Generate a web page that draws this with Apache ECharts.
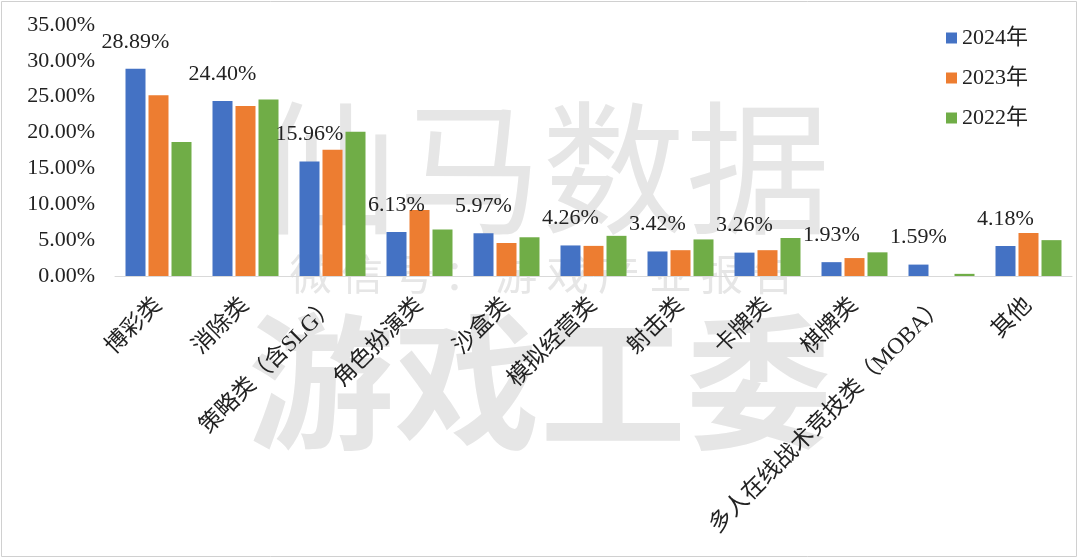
<!DOCTYPE html>
<html>
<head>
<meta charset="utf-8">
<script src="https://cdn.jsdelivr.net/npm/echarts@6/dist/echarts.min.js"></script>
<style>html,body{margin:0;padding:0;background:#fff;}#c{width:1080px;height:559px;}</style>
</head>
<body>
<div id="c"></div>
<script>
const categories = ['博彩类','消除类','策略类（含SLG）','角色扮演类','沙盒类','模拟经营类','射击类','卡牌类','棋牌类','多人在线战术竞技类（MOBA）','其他'];
const seriesNames = ['2024年','2023年','2022年'];
const values2024 = [28.89,24.40,15.96,6.13,5.97,4.26,3.42,3.26,1.93,1.59,4.18];
const values2023 = [25.2,23.7,17.6,9.2,4.6,4.2,3.6,3.6,2.5,null,6.0];
const values2022 = [18.7,24.6,20.1,6.5,5.4,5.6,5.1,5.3,3.3,0.3,5.0];
const yTicks = [0,5,10,15,20,25,30,35];
const colors = ['#4472C4','#ED7D31','#70AD47'];

const FONT = '"Liberation Serif", "Noto Sans CJK SC", serif';
const chart = echarts.init(document.getElementById('c'), null, {renderer:'canvas'});
const wm = '#e6e6e6';
chart.setOption({
  backgroundColor:'#fff',
  animation:false,
  textStyle:{fontFamily:FONT},
  graphic:[
    {type:'rect', z:0, silent:true, shape:{x:1.5,y:1.5,width:1075,height:555}, style:{fill:null, stroke:'#d0d0d0', lineWidth:1}},
    {type:'text', z:-1, silent:true, x:542, y:168, style:{text:'仙马数据', fill:wm, font:'144px "Noto Sans CJK SC"', textAlign:'center', textVerticalAlign:'middle'}},
    {type:'text', z:-1, silent:true, x:542, y:274, style:{text:'微 信 号 ： 游 戏 产 业 报 告', fill:wm, font:'42px "Noto Sans CJK SC"', textAlign:'center', textVerticalAlign:'middle'}},
    {type:'text', z:-1, silent:true, x:540, y:382, style:{text:'游戏工委', fill:wm, font:'bold 146px "Noto Sans CJK SC"', textAlign:'center', textVerticalAlign:'middle'}}
  ],
  legend:{
    orient:'vertical', left:941, top:22,
    itemWidth:11, itemHeight:11, itemGap:18,
    icon:'rect',
    textStyle:{fontSize:22, color:'#222', fontFamily:FONT},
    data:seriesNames
  },
  grid:{left:115, right:8, top:25, bottom:283, containLabel:false},
  xAxis:{
    type:'category', data:categories,
    axisLine:{lineStyle:{color:'#d9d9d9', width:1}},
    axisTick:{show:false},
    axisLabel:{rotate:45, interval:0, fontSize:23, color:'#222', margin:26, fontFamily:FONT}
  },
  yAxis:{
    type:'value', min:0, max:35, interval:5,
    axisLine:{show:false}, axisTick:{show:false},
    splitLine:{show:false},
    axisLabel:{fontSize:22, color:'#222', margin:20, fontFamily:FONT,
      formatter:v=>v.toFixed(2)+'%'}
  },
  series:[
    {name:seriesNames[0], type:'bar', data:values2024, itemStyle:{color:colors[0]},
      barWidth:20, barGap:'15%', barCategoryGap:'23%',
      label:{show:true, position:'top', distance:16, fontSize:22, color:'#222', fontFamily:FONT,
        formatter:p=>p.value.toFixed(2)+'%'}},
    {name:seriesNames[1], type:'bar', data:values2023, itemStyle:{color:colors[1]}, barWidth:20, barGap:'15%'},
    {name:seriesNames[2], type:'bar', data:values2022, itemStyle:{color:colors[2]}, barWidth:20, barGap:'15%'}
  ]
});
</script>
</body>
</html>
